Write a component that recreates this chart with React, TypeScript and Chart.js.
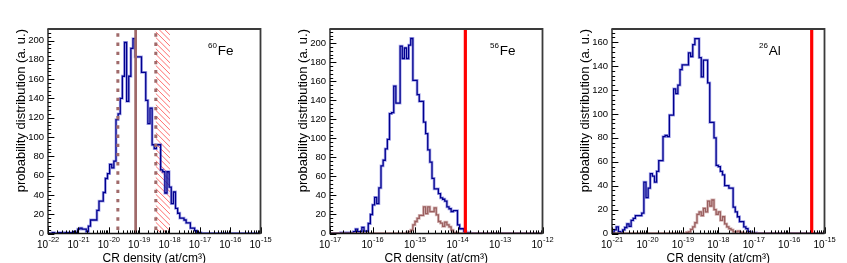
import React, { useEffect, useRef } from 'react';
import { Chart, registerables } from 'chart.js';

Chart.register(...registerables);

const FONT = '"Liberation Sans", Arial, Helvetica, sans-serif';
const Y_TITLE = 'probability distribution (a. u.)';
const X_TITLE = 'CR density (at/cm³)';

// ---------- Panel 1: 60Fe (100 log-bins, 1e-22 .. 1e-15) ----------
const FE60_LOG_RANGE = [-22, -15];
const FE60_Y_MAX = 212;
const FE60_BLUE = [
  0, 0, 1, 0, 0, 1, 1, 0, 1, 1, 1, 1, 2, 1,
  4.5, 5.5, 4.5, 4.5, 2, 7.6, 14, 14, 14, 24, 33.5, 33.5,
  42.5, 57, 62, 71.6, 68, 75, 118, 124, 140, 163, 198, 137, 163, 192, 202,
  183, 183, 183, 167, 167, 138, 114, 130, 92, 88, 92, 92, 66, 64, 42,
  64, 48, 31, 43, 26, 21, 16, 16, 14, 11, 11, 5.5, 5.5, 3, 1, 1,
  0, 0, 0, 0, 0, 0, 0, 0, 0, 0, 0, 0, 0, 0,
  0, 0, 0, 0, 0, 0, 0, 0, 0, 0, 0, 0, 0, 0,
];
const FE60_BEST = 7.7e-20;
const FE60_BAND = [2.0e-20, 3.56e-19];
const FE60_EXCLUDED = [3.56e-19, 1.04e-18];

// ---------- Panel 2: 56Fe (100 log-bins, 1e-17 .. 1e-12) ----------
const FE56_LOG_RANGE = [-17, -12];
const FE56_Y_MAX = 215;
const FE56_BLUE = [
  0, 0, 0, 0, 0,
  1, 0, 1, 1, 0, 1, 2, 4.5, 2, 2, 6.5, 2.5,
  2.5, 10.5, 20, 30, 38, 31.5, 48, 71, 77, 89, 99, 126, 127, 155, 137, 137,
  197, 184, 195, 184, 198, 205, 161, 161,
  146, 139, 139, 117, 105, 88, 75, 58, 47, 47,
  42, 37.5, 36, 34, 28, 26, 23, 24, 24, 9, 5, 5, 2, 1, 1,
  0, 0, 0, 0, 0, 0, 0, 0, 0, 0, 0, 0, 0, 0, 0, 0, 0,
  0, 0, 0, 0, 0, 0, 0, 0, 0, 0, 0, 0, 0, 0, 0, 0, 0,
];
const FE56_BROWN = [
  0, 0, 0, 0, 0, 0, 0, 0, 0, 0, 0, 0, 0, 0, 0, 0, 0, 0,
  0, 0, 0, 0, 0, 0, 0, 0, 0, 0, 0, 0, 0, 0, 0, 0, 0, 0,
  1, 2, 3.5, 9, 12.6, 16, 19, 19, 28, 21, 28, 23, 23, 27, 19.6, 12.6, 11, 7.4, 12, 9, 7, 3.5, 1, 1,
  0, 0, 0, 0, 0, 0, 0, 0, 0, 0, 0, 0, 0, 0, 0, 0, 0, 0, 0, 0,
  0, 0, 0, 0, 0, 0, 0, 0, 0, 0, 0, 0, 0, 0, 0, 0, 0, 0, 0, 0,
];
const FE56_LIMIT = 1.53e-14;

// ---------- Panel 3: 26Al (100 log-bins, 1e-21 .. 1e-15) ----------
const AL26_LOG_RANGE = [-21, -15];
const AL26_Y_MAX = 171;
const AL26_BLUE = [
  1, 3, 5.6, 1.5, 1, 3, 5, 8, 6, 11, 12.6, 15, 15, 15, 17, 43, 30, 38, 50, 48,
  43, 52, 61, 61, 81, 82, 81, 99, 99,
  121, 117, 124, 137, 141, 141, 141, 151, 148, 158, 163, 163, 147, 131, 145, 145, 126, 93, 93, 80,
  57, 56, 52, 49, 40, 40, 38, 38, 22, 18, 14, 10, 10, 5.6, 4, 1.5, 1, 0.5, 0.5,
  0, 0, 0, 0, 0, 0, 0, 0, 0, 0, 0, 0, 0, 0, 0, 0,
  0, 0, 0, 0, 0, 0, 0, 0, 0, 0, 0, 0, 0, 0, 0, 0,
];
const AL26_BROWN = [
  0, 0, 0, 0, 0, 0, 0, 0, 0, 0, 0, 0, 0, 0, 0, 0, 0, 0,
  0, 0, 0, 0, 0, 0, 0, 0, 0, 0, 0, 0, 0, 0, 0, 0, 0,
  1, 1.4, 3.4, 5.6, 9, 16, 18, 15, 21, 18, 27, 23, 28, 20, 16, 18, 11, 14, 8, 5.6, 4, 3, 1.4, 1.4, 2, 1, 0.5,
  0, 0, 0, 0, 0, 0, 0, 0, 0, 0, 0, 0, 0, 0, 0, 0, 0, 0, 0,
  0, 0, 0, 0, 0, 0, 0, 0, 0, 0, 0, 0, 0, 0, 0, 0, 0, 0, 0,
];
const AL26_LIMIT = 4.35e-16;

// ---------- styles ----------
const BLUE = '#00008e';
const BLUE_HALO = 'rgba(80,80,215,0.5)';
const BROWN = '#9a5f5f';
const BROWN_HALO = 'rgba(175,115,115,0.5)';
const MARK_BROWN = '#a06a6a';
const RED = '#ff0000';

type VLine = { value: number; color: string; width: number; dash?: number[]; dashOffset?: number };
type PanelSpec = {
  width: number;
  rightPad: number;
  logRange: number[];
  yMax: number;
  blue: number[];
  brown?: number[];
  lines: VLine[];
  hatch?: number[];
  sup: string;
  label: string;
  labelX: number;
};

const PANELS: PanelSpec[] = [
  {
    width: 282, rightPad: 21.5, logRange: FE60_LOG_RANGE, yMax: FE60_Y_MAX, blue: FE60_BLUE,
    lines: [
      { value: FE60_BAND[0], color: MARK_BROWN, width: 3, dash: [3.4, 5.8], dashOffset: 4.9 },
      { value: FE60_BAND[1], color: MARK_BROWN, width: 3, dash: [3.4, 5.8], dashOffset: 4.9 },
      { value: FE60_BEST, color: MARK_BROWN, width: 2.7 },
    ],
    hatch: FE60_EXCLUDED, sup: '60', label: 'Fe', labelX: 208,
  },
  {
    width: 282, rightPad: 21.5, logRange: FE56_LOG_RANGE, yMax: FE56_Y_MAX, blue: FE56_BLUE, brown: FE56_BROWN,
    lines: [{ value: FE56_LIMIT, color: RED, width: 3.2 }],
    sup: '56', label: 'Fe', labelX: 208,
  },
  {
    width: 283, rightPad: 22.5, logRange: AL26_LOG_RANGE, yMax: AL26_Y_MAX, blue: AL26_BLUE, brown: AL26_BROWN,
    lines: [{ value: AL26_LIMIT, color: RED, width: 3.2 }],
    sup: '26', label: 'Al', labelX: 195,
  },
];

function histPoints(range: number[], counts: number[]) {
  const [lo, hi] = range;
  const w = (hi - lo) / counts.length;
  const pts = counts.map((c, i) => ({ x: Math.pow(10, lo + i * w), y: c }));
  pts.push({ x: Math.pow(10, hi), y: counts[counts.length - 1] });
  return pts;
}

function decorPlugin(spec: PanelSpec) {
  return {
    id: 'rootDecor',
    beforeDatasetsDraw(chart: any) {
      if (!spec.hatch) return;
      const { ctx, chartArea } = chart;
      const xs = chart.scales.x;
      const x1 = xs.getPixelForValue(spec.hatch[0]);
      const x2 = xs.getPixelForValue(spec.hatch[1]);
      const { top, bottom } = chartArea;
      ctx.save();
      ctx.beginPath();
      ctx.rect(x1, top, x2 - x1, bottom - top);
      ctx.clip();
      ctx.strokeStyle = 'rgba(255,40,40,0.85)';
      ctx.lineWidth = 0.8;
      const h = bottom - top;
      ctx.beginPath();
      for (let s = x1 - h; s < x2 + 2; s += 5.6) {
        ctx.moveTo(s, top);
        ctx.lineTo(s + h, bottom);
      }
      ctx.stroke();
      ctx.restore();
    },
    afterDatasetsDraw(chart: any) {
      const { ctx, chartArea } = chart;
      const xs = chart.scales.x;
      ctx.save();
      for (const l of spec.lines) {
        const px = xs.getPixelForValue(l.value);
        ctx.beginPath();
        ctx.strokeStyle = l.color;
        ctx.lineWidth = l.width;
        ctx.lineCap = 'butt';
        ctx.setLineDash(l.dash || []);
        ctx.lineDashOffset = l.dashOffset || 0;
        ctx.moveTo(px, chartArea.top);
        ctx.lineTo(px, chartArea.bottom);
        ctx.stroke();
      }
      ctx.restore();
    },
    afterDraw(chart: any) {
      const { ctx, chartArea } = chart;
      const { left, right, top, bottom } = chartArea;
      const xs = chart.scales.x;
      const ys = chart.scales.y;
      ctx.save();
      // ticks (inward)
      ctx.strokeStyle = '#000';
      ctx.lineWidth = 1;
      ctx.beginPath();
      const [lo, hi] = spec.logRange;
      for (let e = lo; e <= hi; e++) {
        const px = Math.round(xs.getPixelForValue(Math.pow(10, e))) + 0.5;
        ctx.moveTo(px, bottom);
        ctx.lineTo(px, bottom - 6.2);
        if (e < hi) {
          for (let m = 2; m <= 9; m++) {
            const mx = Math.round(xs.getPixelForValue(m * Math.pow(10, e))) + 0.5;
            ctx.moveTo(mx, bottom);
            ctx.lineTo(mx, bottom - 3.1);
          }
        }
      }
      for (let v = 0; v <= spec.yMax; v += 4) {
        const py = Math.round(ys.getPixelForValue(v)) + 0.5;
        const len = v % 20 === 0 ? 6.4 : 3.2;
        ctx.moveTo(left, py);
        ctx.lineTo(left + len, py);
      }
      ctx.stroke();

      // frame
      ctx.lineWidth = 1.3;
      ctx.strokeStyle = '#111';
      ctx.beginPath();
      ctx.moveTo(left, top);
      ctx.lineTo(left, bottom);
      ctx.lineTo(right, bottom);
      ctx.stroke();
      ctx.lineWidth = 1.8;
      ctx.strokeStyle = '#3a3a3a';
      ctx.beginPath();
      ctx.moveTo(left - 0.6, top);
      ctx.lineTo(right, top);
      ctx.lineTo(right, bottom + 0.6);
      ctx.stroke();

      // x tick labels 10^n
      ctx.fillStyle = '#000';
      ctx.textAlign = 'left';
      ctx.textBaseline = 'alphabetic';
      for (let e = lo; e <= hi; e++) {
        const px = xs.getPixelForValue(Math.pow(10, e));
        ctx.font = `10px ${FONT}`;
        const wb = ctx.measureText('10').width;
        ctx.font = `7.5px ${FONT}`;
        const sup = String(e);
        const ws = ctx.measureText(sup).width;
        const x0 = px - (wb + ws) / 2;
        ctx.font = `10px ${FONT}`;
        ctx.fillText('10', x0, 248);
        ctx.font = `7.5px ${FONT}`;
        ctx.fillText(sup, x0 + wb + 0.3, 242);
      }

      // isotope label
      ctx.font = `8px ${FONT}`;
      ctx.fillText(spec.sup, spec.labelX, 47.5);
      const wsup = ctx.measureText(spec.sup).width;
      ctx.font = `13.5px ${FONT}`;
      ctx.fillText(spec.label, spec.labelX + wsup + 0.8, 54.7);
      ctx.restore();
    },
  };
}

function buildConfig(spec: PanelSpec): any {
  const [lo, hi] = spec.logRange;
  const common = { pointRadius: 0, pointHoverRadius: 0, stepped: 'before', fill: false, tension: 0, borderJoinStyle: 'miter', borderCapStyle: 'butt' };
  const datasets: any[] = [
    { ...common, label: 'halo', data: histPoints(spec.logRange, spec.blue), borderColor: BLUE_HALO, borderWidth: 2.8, order: 4 },
    { ...common, label: 'CR density', data: histPoints(spec.logRange, spec.blue), borderColor: BLUE, borderWidth: 1.3, order: 3 },
  ];
  if (spec.brown) {
    datasets.push(
      { ...common, label: 'halo2', data: histPoints(spec.logRange, spec.brown), borderColor: BROWN_HALO, borderWidth: 2.8, order: 2 },
      { ...common, label: 'CR density (2)', data: histPoints(spec.logRange, spec.brown), borderColor: BROWN, borderWidth: 1.3, order: 1 },
    );
  }
  return {
    type: 'line',
    data: { datasets },
    options: {
      responsive: false,
      animation: false,
      events: [],
      layout: { padding: { left: 0, right: spec.rightPad, top: 29, bottom: 0 } },
      plugins: { legend: { display: false }, tooltip: { enabled: false }, title: { display: false } },
      scales: {
        x: {
          type: 'logarithmic',
          min: Math.pow(10, lo),
          max: Math.pow(10, hi),
          afterFit: (s: any) => { s.height = 29.5; },
          grid: { display: false, drawTicks: false },
          border: { display: false },
          ticks: { display: false },
          title: { display: true, text: X_TITLE, color: '#000', font: { size: 12, family: FONT }, padding: { top: 0, bottom: -3 } },
        },
        y: {
          type: 'linear',
          min: 0,
          max: spec.yMax,
          afterFit: (s: any) => { s.width = 48; },
          grid: { display: false, drawTicks: false },
          border: { display: false },
          ticks: { stepSize: 20, autoSkip: false, includeBounds: false, padding: 4, color: '#000', font: { size: 9.5, family: FONT } },
          title: { display: true, text: Y_TITLE, align: 'end', color: '#000', font: { size: 13, family: FONT }, padding: { top: 13.2, bottom: 0 } },
        },
      },
    },
    plugins: [decorPlugin(spec)],
  };
}

function Panel({ spec }: { spec: PanelSpec }) {
  const ref = useRef<HTMLCanvasElement | null>(null);
  useEffect(() => {
    if (!ref.current) return;
    const chart = new Chart(ref.current, buildConfig(spec));
    return () => chart.destroy();
  }, [spec]);
  return (
    <div style={{ width: spec.width, height: 263, flex: 'none' }}>
      <canvas ref={ref} width={spec.width} height={263} style={{ display: 'block', width: spec.width, height: 263 }} />
    </div>
  );
}

export default function App() {
  return (
    <div style={{ position: 'fixed', left: 0, top: 0, width: 847, height: 263, display: 'flex', background: '#fff', overflow: 'hidden' }}>
      {PANELS.map((p, i) => (
        <Panel key={i} spec={p} />
      ))}
    </div>
  );
}
